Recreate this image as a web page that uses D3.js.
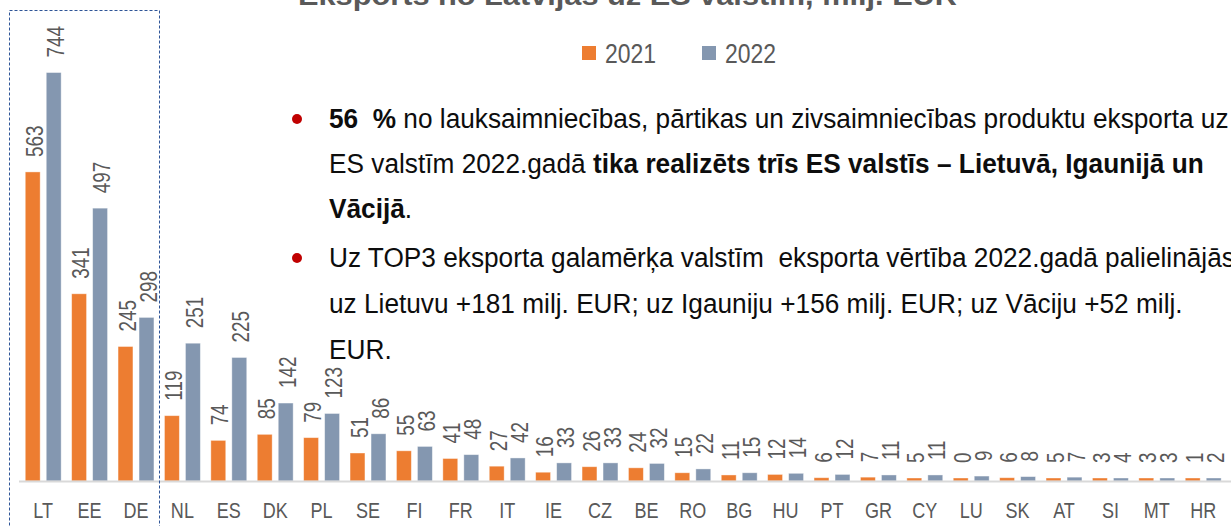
<!DOCTYPE html>
<html>
<head>
<meta charset="utf-8">
<script src="https://cdn.jsdelivr.net/npm/d3@7"></script>
<style>
  body { margin: 0; background: #fff; }
  svg { display: block; }
  text { font-family: "Liberation Sans", Arial, sans-serif; }
</style>
</head>
<body>
<div id="chart"></div>
<script>
// country codes along the x axis
var countries = ["LT","EE","DE","NL","ES","DK","PL","SE","FI","FR","IT","IE","CZ","BE","RO","BG","HU","PT","GR","CY","LU","SK","AT","SI","MT","HR"];
var seriesNames = ["2021", "2022"];
// export values, milj. EUR
var values2021 = [563,341,245,119,74,85,79,51,55,41,27,16,26,24,15,11,12,6,7,5,0,6,5,3,3,1];
var values2022 = [744,497,298,251,225,142,123,86,63,48,42,33,33,32,22,15,14,12,11,11,9,8,7,4,3,2];

var colors = {"2021": "#ed7d31", "2022": "#8497b0"};

var W = 1231, H = 526;
var baseY = 481;
var narrowK = 0.82; // no Arial Narrow here, squeeze the regular face instead

var svg = d3.select("#chart").append("svg")
    .attr("width", W)
    .attr("height", H);

// table built from the arrays
var data = countries.map(function(c, i){
    return {country: c, vals: [{s: "2021", v: values2021[i]}, {s: "2022", v: values2022[i]}]};
});

var x = d3.scaleBand().domain(countries).range([20, 1226.4]).padding(0);
var xs = d3.scaleBand().domain(seriesNames).range([0, x.bandwidth()])
    .paddingInner(0.29).paddingOuter(0.25);
var y = d3.scaleLinear().domain([0, 800]).range([baseY, baseY - 439.2]);

// bars
var groups = svg.append("g").selectAll("g").data(data).enter().append("g")
    .attr("transform", function(d){ return "translate(" + x(d.country) + ",0)"; });

groups.selectAll("rect").data(function(d){ return d.vals; }).enter().append("rect")
    .attr("x", function(d){ return xs(d.s); })
    .attr("width", xs.bandwidth())
    .attr("y", function(d){ return Math.min(y(d.v), baseY - 3); })
    .attr("height", function(d){ return Math.max(baseY - y(d.v), 3); })
    .attr("fill", function(d){ return colors[d.s]; })
    .attr("stroke", "#ffffff").attr("stroke-opacity", 0.5).attr("stroke-width", 0.8);

// value labels (rotated)
groups.selectAll("text.val").data(function(d){ return d.vals; }).enter().append("text")
    .attr("class", "val")
    .attr("transform", function(d){
        var cx = xs(d.s) + xs.bandwidth() / 2 + 2;
        var ty = Math.min(y(d.v), baseY - 3) - 15;
        return "translate(" + cx + "," + ty + ") rotate(-90) scale(" + narrowK + ",1)";
    })
    .attr("dy", "0.35em")
    .attr("font-size", 23)
    .attr("fill", "#595959")
    .text(function(d){ return d3.format("d")(d.v); });

// x axis
var xAxis = d3.axisBottom(x).tickSize(0).tickPadding(0);
var ax = svg.append("g").attr("transform", "translate(0," + baseY + ")").call(xAxis);
ax.select(".domain").remove();
ax.selectAll("text")
    .attr("y", 0).attr("dy", 0)
    .attr("transform", "translate(0,37) scale(" + narrowK + ",1)")
    .attr("font-size", 22)
    .attr("font-family", "'Liberation Sans', Arial, sans-serif")
    .attr("fill", "#595959");
svg.append("line")
    .attr("x1", 19).attr("x2", W).attr("y1", baseY + 0.5).attr("y2", baseY + 0.5)
    .attr("stroke", "#d9d9d9").attr("stroke-width", 2);

// dashed frame round the top three
svg.append("rect")
    .attr("x", 9.5).attr("y", 10.5).attr("width", 150).attr("height", 530)
    .attr("fill", "none").attr("stroke", "#2f5597")
    .attr("stroke-width", 1).attr("stroke-dasharray", "3,2");

// title (cut at the top)
svg.append("text")
    .attr("x", 298).attr("y", 5)
    .attr("font-weight", "bold").attr("font-size", 28)
    .attr("fill", "#595959")
    .attr("textLength", 659).attr("lengthAdjust", "spacingAndGlyphs")
    .text("Eksports no Latvijas uz ES valstīm, milj. EUR");

// legend
var lg = svg.append("g");
[{s: "2021", x: 582}, {s: "2022", x: 702}].forEach(function(l){
    lg.append("rect").attr("x", l.x).attr("y", 46).attr("width", 14).attr("height", 14)
        .attr("fill", colors[l.s]);
    lg.append("text")
        .attr("transform", "translate(" + (l.x + 23) + ",63) scale(" + narrowK + ",1)")
        .attr("font-size", 28).attr("fill", "#595959").text(l.s);
});

// bullet text
var lines = [
    {y: 128, bullet: true, parts: [["56  %", true], [" no lauksaimniecības, pārtikas un zivsaimniecības produktu eksporta uz", false]]},
    {y: 173, parts: [["ES valstīm 2022.gadā ", false], ["tika realizēts trīs ES valstīs – Lietuvā, Igaunijā un", true]]},
    {y: 218, parts: [["Vācijā", true], [".", false]]},
    {y: 267, bullet: true, parts: [["Uz TOP3 eksporta galamērķa valstīm  eksporta vērtība 2022.gadā palielinājās", false]]},
    {y: 313, parts: [["uz Lietuvu +181 milj. EUR; uz Igauniju +156 milj. EUR; uz Vāciju +52 milj.", false]]},
    {y: 359, parts: [["EUR.", false]]}
];
var tb = svg.append("g");
lines.forEach(function(ln){
    if (ln.bullet) {
        tb.append("circle").attr("cx", 297).attr("cy", ln.y - 9).attr("r", 5).attr("fill", "#c00000");
    }
    var t = tb.append("text")
        .attr("transform", "translate(329," + ln.y + ") scale(0.972,1)")
        .attr("font-size", 27).attr("fill", "#0d0d0d")
        .attr("xml:space", "preserve").style("white-space", "pre");
    ln.parts.forEach(function(p){
        t.append("tspan").attr("font-weight", p[1] ? "bold" : "normal").text(p[0]);
    });
});
</script>
</body>
</html>
